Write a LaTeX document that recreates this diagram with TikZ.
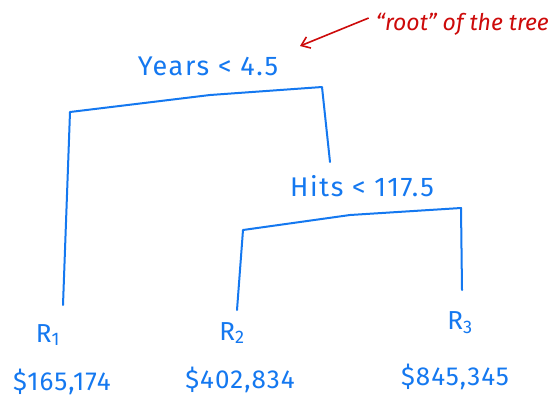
\documentclass[tikz,border=0pt]{standalone}
\usepackage{fontspec}
\setmainfont{Fira Sans}
\usetikzlibrary{arrows.meta}
\definecolor{inkblue}{RGB}{20,120,240}
\definecolor{inkred}{RGB}{205,10,10}
\begin{document}
\begin{tikzpicture}[x=1pt,y=-1pt,
  ink/.style={draw=inkblue,line width=2pt,line cap=round,line join=round},
  lbl/.style={text=inkblue,font=\fontsize{27}{30}\selectfont\addfontfeatures{LetterSpace=6},inner sep=1pt},
  leaf/.style={text=inkblue,font=\fontsize{26}{28}\selectfont\addfontfeatures{LetterSpace=4},inner sep=1pt},
  note/.style={text=inkred,font=\itshape\fontsize{23}{25}\selectfont,inner sep=1pt}]
\useasboundingbox[fill=white] (0,0) rectangle (553,402);
% labels
\node[lbl] (years) at (208,66) {Years < 4.5};
\node[lbl] (hits) at (362,186) {Hits < 117.5};
\node[note,anchor=east] (rootnote) at (550,24) {“root” of the tree};
\node[leaf] (r1) at (48,335) {R\textsubscript{1}};
\node[leaf] (r2) at (232,333) {R\textsubscript{2}};
\node[leaf] (r3) at (460,323) {R\textsubscript{3}};
\node[leaf] (v1) at (62,382) {\$165,174};
\node[leaf] (v2) at (240,380) {\$402,834};
\node[leaf] (v3) at (455,377) {\$845,345};
% tree coordinates
\coordinate (aL) at (70,112);
\coordinate (aM) at (210,95);
\coordinate (aR) at (322,87);
\coordinate (aLe) at (63,305);
\coordinate (aRe) at (330,162);
\coordinate (bL) at (243,230);
\coordinate (bM) at (350,215);
\coordinate (bR) at (461,208);
\coordinate (bLe) at (237,310);
\coordinate (bRe) at (462,290);
% branches
\draw[ink] (aLe) -- (aL) -- (aM) -- (aR) -- (aRe);
\draw[ink] (bLe) -- (bL) -- (bM) -- (bR) -- (bRe);
% annotation arrow
\coordinate (arrtip) at (300,46);
\draw[draw=inkred,line width=1.6pt,-{Straight Barb[length=8pt,width=12pt]}] (rootnote.west) ++(-6,-6) -- (arrtip);
\end{tikzpicture}
\end{document}
